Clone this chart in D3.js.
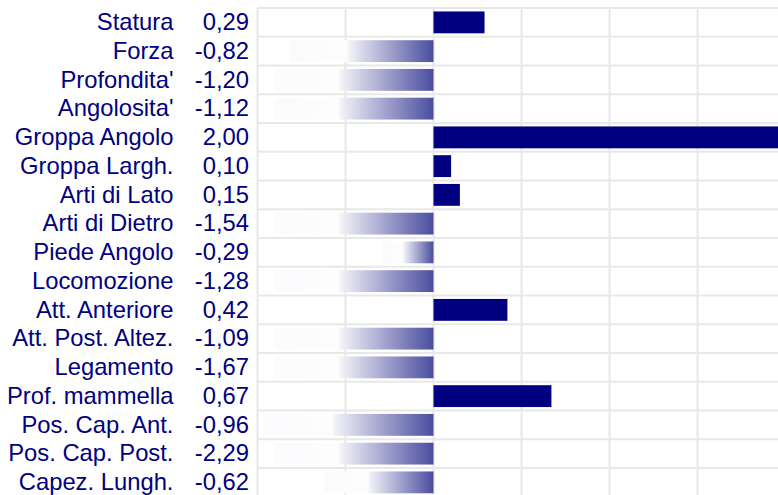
<!DOCTYPE html>
<html>
<head>
<meta charset="utf-8">
<script src="https://cdn.jsdelivr.net/npm/d3@7"></script>
<style>
  body { margin: 0; background: #fff; }
  svg { display: block; }
</style>
</head>
<body>
<script>
// chart data
var traits = ["Statura", "Forza", "Profondita'", "Angolosita'", "Groppa Angolo", "Groppa Largh.",
              "Arti di Lato", "Arti di Dietro", "Piede Angolo", "Locomozione", "Att. Anteriore",
              "Att. Post. Altez.", "Legamento", "Prof. mammella", "Pos. Cap. Ant.", "Pos. Cap. Post.",
              "Capez. Lungh."];
var scores = [0.29, -0.82, -1.20, -1.12, 2.00, 0.10, 0.15, -1.54, -0.29, -1.28, 0.42,
              -1.09, -1.67, 0.67, -0.96, -2.29, -0.62];
var gridTicks = [-1, -0.5, 0, 0.5, 1, 1.5, 2];

var W = 778, H = 495;
var rowH = 28.75, topY = 8;
var stretch = 1.035;   // text in the original is a bit wide

var svg = d3.select("body").append("svg")
    .attr("width", W)
    .attr("height", H);

var x = d3.scaleLinear().domain([-1, 2]).range([257.5, 785.5]);
var y = d3.scaleBand().domain(traits)
    .range([topY, topY + rowH * traits.length])
    .paddingInner(0.24).paddingOuter(0.12);

var itFormat = d3.formatLocale({ decimal: ",", thousands: ".", grouping: [3], currency: ["", "€"], minus: "-" }).format(".2f");

// -------------------------------------------------------------------------- //
//                                 GRADIENT                                   //
// -------------------------------------------------------------------------- //
var defs = svg.append("defs");
var grad = defs.append("linearGradient")
    .attr("id", "negGrad")
    .attr("x1", "0%").attr("x2", "100%")
    .attr("y1", "0%").attr("y2", "0%");
[[0, "#fbfbfd"], [0.40, "#fdfdfe"], [0.415, "#f2f2f8"], [1, "#4a4d9f"]].forEach(function(s) {
    grad.append("stop").attr("offset", s[0]).attr("stop-color", s[1]);
});

// -------------------------------------------------------------------------- //
//                                   GRID                                     //
// -------------------------------------------------------------------------- //
var rowLines = d3.range(traits.length + 1).map(function(i) { return topY + rowH * i; });

svg.append("g").selectAll("line")
    .data(rowLines)
    .enter().append("line")
    .attr("x1", x(-1)).attr("x2", W)
    .attr("y1", function(d) { return d; })
    .attr("y2", function(d) { return d; })
    .attr("stroke", "#e8e8e8")
    .attr("stroke-width", 2);

svg.append("g").selectAll("line")
    .data(gridTicks)
    .enter().append("line")
    .attr("x1", function(d) { return x(d); })
    .attr("x2", function(d) { return x(d); })
    .attr("y1", topY).attr("y2", H)
    .attr("stroke", "#e8e8e8")
    .attr("stroke-width", 2);

// -------------------------------------------------------------------------- //
//                                   BARS                                     //
// -------------------------------------------------------------------------- //
// values past the left end of the axis are drawn as a short fixed bar
function shown(v) { return v < -1 ? -0.9 : v; }

svg.append("g").selectAll("rect")
    .data(traits)
    .enter().append("rect")
    .attr("x", function(d, i) { return x(Math.min(0, shown(scores[i]))); })
    .attr("y", function(d) { return y(d); })
    .attr("width", function(d, i) { return Math.abs(x(shown(scores[i])) - x(0)); })
    .attr("height", y.bandwidth())
    .attr("fill", function(d, i) { return scores[i] < 0 ? "url(#negGrad)" : "#000080"; });

// -------------------------------------------------------------------------- //
//                                   TEXT                                     //
// -------------------------------------------------------------------------- //
var txt = svg.append("g")
    .attr("transform", "scale(" + stretch + ",1)")
    .style("font-family", "'Liberation Sans', Arial, sans-serif")
    .style("font-size", "23px")
    .style("fill", "#000080");

txt.selectAll("text.lab")
    .data(traits)
    .enter().append("text")
    .attr("class", "lab")
    .attr("x", 173.5 / stretch)
    .attr("y", function(d) { return y(d) + y.bandwidth() / 2 + 7.8; })
    .attr("text-anchor", "end")
    .text(function(d) { return d; });

txt.selectAll("text.val")
    .data(traits)
    .enter().append("text")
    .attr("class", "val")
    .attr("x", 249 / stretch)
    .attr("y", function(d) { return y(d) + y.bandwidth() / 2 + 7.8; })
    .attr("text-anchor", "end")
    .text(function(d, i) { return itFormat(scores[i]); });
</script>
</body>
</html>
